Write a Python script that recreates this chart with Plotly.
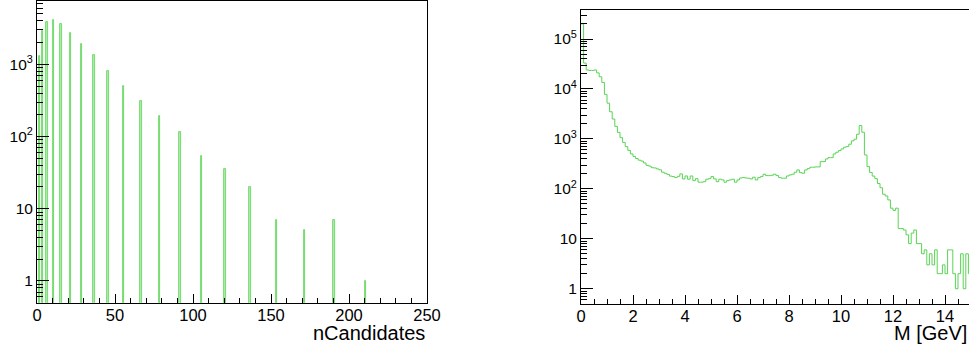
import plotly.graph_objects as go

# nCandidates histogram: occupied unit-width bins (low edges) and their counts
ncand_bin_low = [1, 3, 6, 10, 15, 21, 28, 36, 45, 55, 66, 78, 91, 105, 120, 136, 153, 171, 190, 210]
ncand_counts = [1290, 2870, 3860, 4040, 3630, 2750, 1910, 1340, 803, 497, 306, 190, 117,
                54, 35, 20, 7, 5, 7, 1]

# invariant mass histogram: 150 bins of 0.1 GeV from 0 to 15 GeV
mass_lo, mass_hi, mass_width = 0.0, 15.0, 0.1
mass_counts = [
    200000, 33000, 24000, 23500, 23500, 24000, 21000, 17500, 13500, 7800,
    5200, 3500, 2500, 1780, 1350, 1060, 850, 700, 590, 500,
    445, 405, 375, 360, 330, 295, 285, 265, 262, 250,
    240, 215, 205, 195, 180, 176, 168, 178, 199, 158,
    181, 156, 181, 146, 160, 136, 136, 139, 156, 160,
    176, 158, 139, 156, 151, 136, 146, 151, 156, 136,
    151, 165, 168, 165, 163, 158, 171, 151, 168, 176,
    196, 184, 184, 187, 196, 184, 168, 163, 163, 181,
    190, 196, 215, 239, 211, 205, 239, 254, 271, 271,
    275, 275, 351, 351, 397, 422, 422, 500, 541, 583,
    631, 683, 702, 783, 912, 986, 1240, 1850, 1360, 477,
    279, 213, 180, 160, 128, 105, 78, 72, 60, 41,
    37, 41, 16, 16, 15, 12, 8, 13, 15, 8,
    8, 5, 6, 3, 5, 3, 6, 2, 2, 3,
    2, 6, 6, 2, 1, 2, 5, 1, 5, 2,
]

GREEN = "#59d454"
GREEN_LIGHT = "#b4ebb1"
FONT = "Liberation Sans, Arial, sans-serif"
W, H = 969, 344


def log_minor(lo_exp, hi_exp):
    vals = []
    for e in range(lo_exp, hi_exp + 1):
        for m in range(2, 10):
            vals.append(m * 10 ** e)
    return vals


def dec_label(v):
    if v == 1:
        return "1"
    if v == 10:
        return "10"
    return "10<sup>%d</sup>" % (len(str(int(v))) - 1)


fig = go.Figure()

fig.add_trace(go.Bar(
    x=[b + 0.5 for b in ncand_bin_low], y=ncand_counts, width=1,
    marker=dict(color=GREEN_LIGHT, line=dict(color=GREEN, width=0.8)),
    xaxis="x", yaxis="y", showlegend=False,
))

edges = [mass_lo + i * mass_width for i in range(len(mass_counts))] + [mass_hi]
fig.add_trace(go.Scatter(
    x=edges, y=mass_counts + [mass_counts[-1]], mode="lines",
    line=dict(color=GREEN, width=1, shape="hv"),
    xaxis="x2", yaxis="y2", showlegend=False,
))

left_dec = [1, 10, 100, 1000]
right_dec = [1, 10, 100, 1000, 10000, 100000]

common_axis = dict(showline=True, linecolor="black", linewidth=1, ticks="inside",
                   tickcolor="black", showgrid=False, zeroline=False,
                   color="black", automargin=False)

fig.update_layout(
    width=W, height=H, margin=dict(l=0, r=0, t=0, b=0, pad=0, autoexpand=False),
    paper_bgcolor="white", plot_bgcolor="white",
    font=dict(family=FONT, color="black"),
    bargap=0,
    xaxis=dict(**common_axis, domain=[37 / W, 427 / W], range=[0, 250], mirror=True,
               tickvals=[0, 50, 100, 150, 200, 250], ticklen=9,
               tickfont=dict(size=16.5), ticklabelstandoff=-3,
               minor=dict(ticks="inside", ticklen=5, dtick=10, tickcolor="black")),
    yaxis=dict(**common_axis, domain=[(H - 302.7) / H, (H - 1) / H], type="log",
               range=[-0.301, 3.876], mirror=True,
               tickvals=left_dec, ticktext=[dec_label(v) for v in left_dec],
               ticklen=12, tickfont=dict(size=15.5),
               minor=dict(ticks="inside", ticklen=6, tickcolor="black",
                          tickvals=log_minor(-1, 3))),
    xaxis2=dict(**common_axis, domain=[581 / W, 1], range=[0, (W - 581) / 26.0], mirror=True,
                tickvals=list(range(0, 16, 2)), ticklen=9, tickfont=dict(size=16.5),
                ticklabelstandoff=-3, anchor="y2",
                minor=dict(ticks="inside", ticklen=5, dtick=0.5, tickcolor="black")),
    yaxis2=dict(**common_axis, domain=[(H - 303.7) / H, (H - 10) / H], type="log",
                range=[-0.300, 5.581], anchor="x2",
                tickvals=right_dec, ticktext=[dec_label(v) for v in right_dec],
                ticklen=12, tickfont=dict(size=15.5),
                minor=dict(ticks="inside", ticklen=6, tickcolor="black",
                           tickvals=log_minor(-1, 5))),
)

fig.add_annotation(text="nCandidates", xref="paper", yref="paper",
                   x=427 / W, y=(H - 333) / H, xanchor="right", yanchor="middle",
                   showarrow=False, font=dict(size=20, family=FONT, color="black"))
fig.add_annotation(text="M [GeV]", xref="paper", yref="paper",
                   x=1.0, y=(H - 333) / H, xanchor="right", yanchor="middle",
                   showarrow=False, font=dict(size=20, family=FONT, color="black"))

fig.write_html("out.html")
